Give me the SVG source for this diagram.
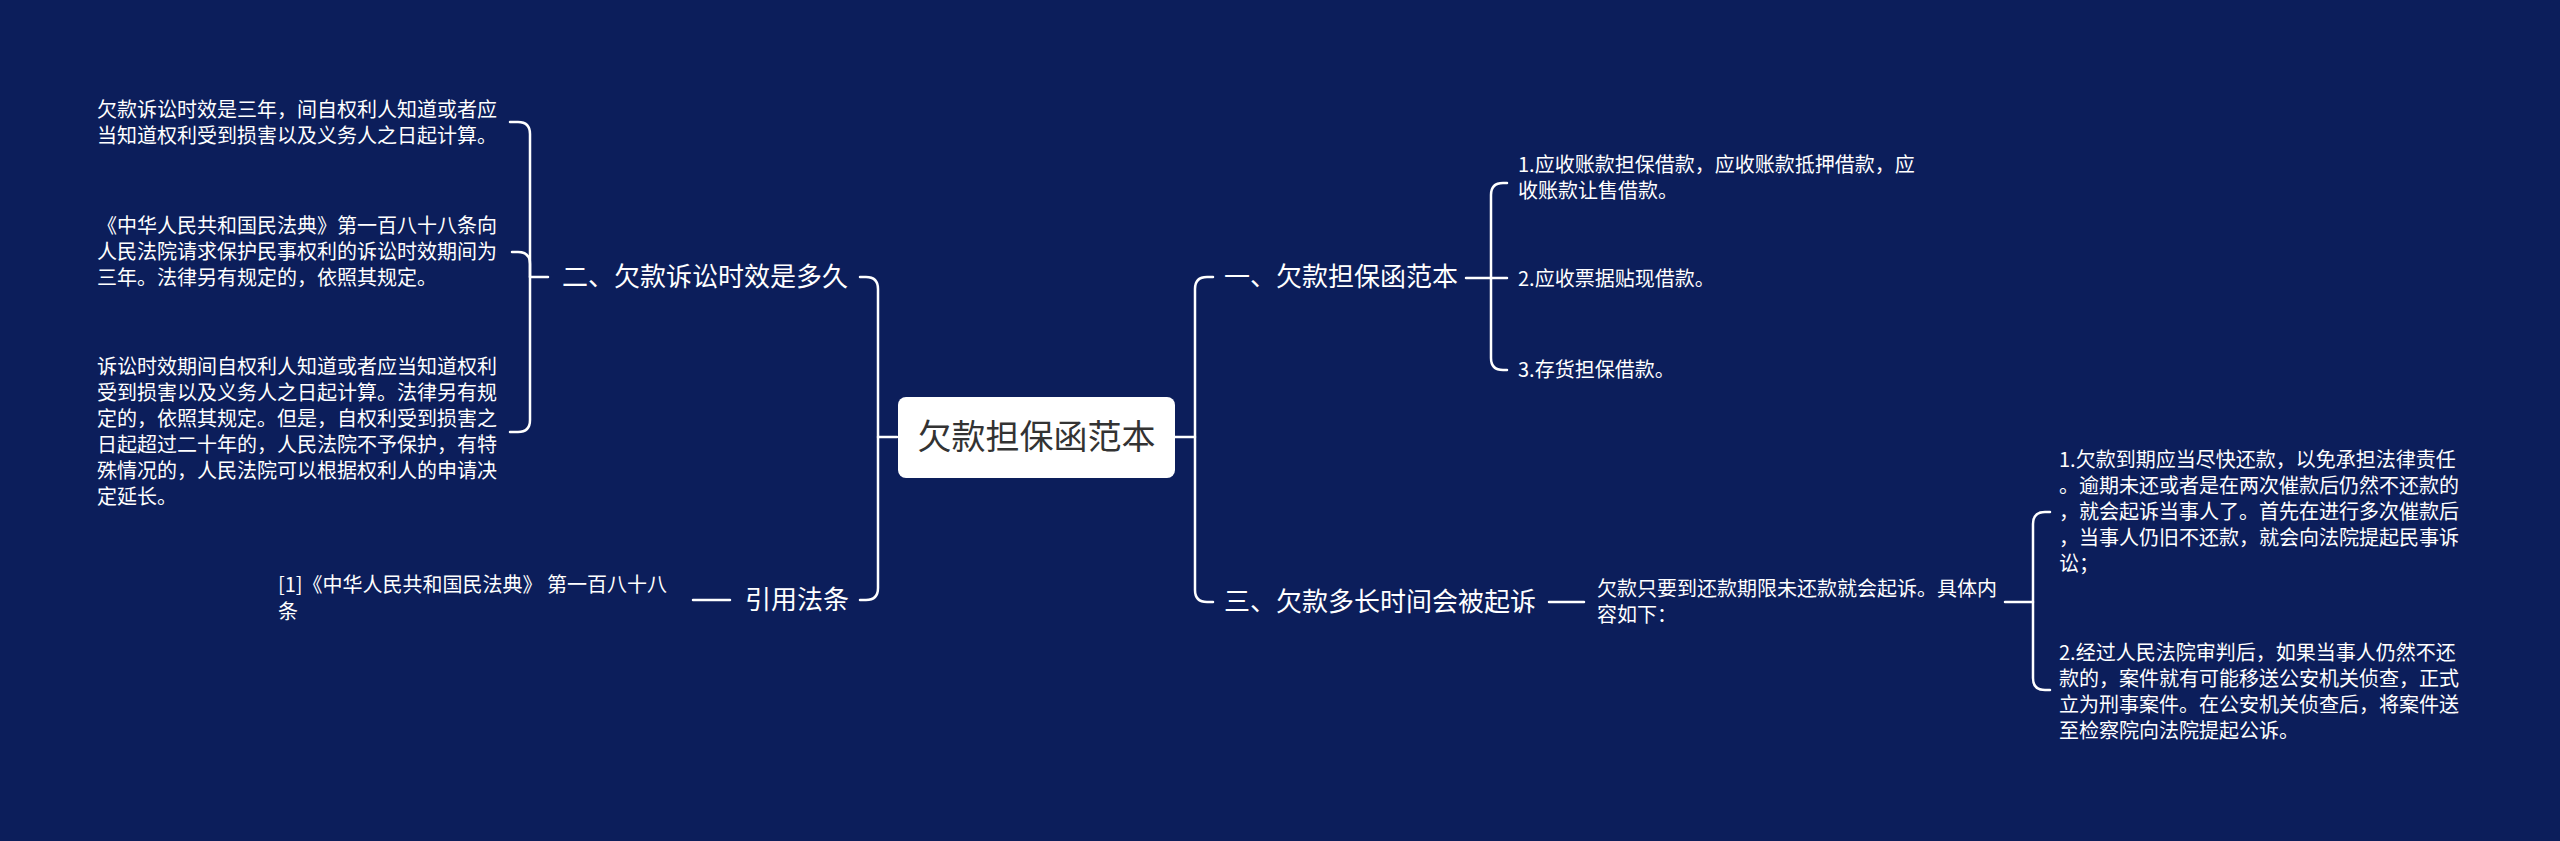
<svg xmlns="http://www.w3.org/2000/svg" width="2560" height="841" viewBox="0 0 2560 841">
<style>
.bg{fill:#0c1e5b}
.ln{fill:none;stroke:#ffffff;stroke-width:2.5;stroke-linecap:round;stroke-linejoin:round}
.t{font-family:"Noto Sans CJK SC","Noto Sans",sans-serif;fill:#ffffff}
.s{font-size:20px}
.m{font-size:26px}
.c{font-size:34px;fill:#333333}
</style>
<rect class="bg" x="0" y="0" width="2560" height="841"/>
<g id="connectors">
  <!-- center to left trunk -->
  <path class="ln" d="M897 437 H878 V289 Q878 277 866 277 H860"/>
  <path class="ln" d="M878 437 V588 Q878 600 866 600 H860"/>
  <!-- center to right trunk -->
  <path class="ln" d="M1175 437 H1195 V289 Q1195 277 1207 277 H1213"/>
  <path class="ln" d="M1195 437 V590 Q1195 602 1207 602 H1213"/>
  <!-- 二 bracket -->
  <path class="ln" d="M548 277 H530 V134 Q530 122 518 122 H510"/>
  <path class="ln" d="M530 277 V264 Q530 252 518 252 H512"/>
  <path class="ln" d="M530 277 V420 Q530 432 518 432 H510"/>
  <!-- 引用法条 -->
  <path class="ln" d="M730 600 H693"/>
  <!-- 一 bracket -->
  <path class="ln" d="M1466 278 H1491 V195 Q1491 183 1503 183 H1507"/>
  <path class="ln" d="M1491 278 H1507"/>
  <path class="ln" d="M1491 278 V358 Q1491 370 1503 370 H1507"/>
  <!-- 三 -->
  <path class="ln" d="M1549 602 H1584"/>
  <path class="ln" d="M2005 602 H2033 V524 Q2033 512 2045 512 H2050"/>
  <path class="ln" d="M2033 602 V678 Q2033 690 2045 690 H2050"/>
</g>
<g id="center">
  <rect x="898" y="397" width="277" height="81" rx="8" fill="#ffffff"/>
  <text class="t c" x="1036.5" y="449" text-anchor="middle">欠款担保函范本</text>
</g>
<g id="n2">
  <text class="t m" x="562" y="286">二、欠款诉讼时效是多久</text>
</g>
<g id="n2a">
  <text class="t s" x="97"><tspan x="97" y="117">欠款诉讼时效是三年，间自权利人知道或者应</tspan><tspan x="97" y="143">当知道权利受到损害以及义务人之日起计算。</tspan></text>
</g>
<g id="n2b">
  <text class="t s"><tspan x="97" y="233">《中华人民共和国民法典》第一百八十八条向</tspan><tspan x="97" y="259">人民法院请求保护民事权利的诉讼时效期间为</tspan><tspan x="97" y="285">三年。法律另有规定的，依照其规定。</tspan></text>
</g>
<g id="n2c">
  <text class="t s"><tspan x="97" y="374">诉讼时效期间自权利人知道或者应当知道权利</tspan><tspan x="97" y="400">受到损害以及义务人之日起计算。法律另有规</tspan><tspan x="97" y="426">定的，依照其规定。但是，自权利受到损害之</tspan><tspan x="97" y="452">日起超过二十年的，人民法院不予保护，有特</tspan><tspan x="97" y="478">殊情况的，人民法院可以根据权利人的申请决</tspan><tspan x="97" y="504">定延长。</tspan></text>
</g>
<g id="nref">
  <text class="t m" x="745" y="609">引用法条</text>
</g>
<g id="nrefa">
  <text class="t s"><tspan x="278" y="592">[1]《中华人民共和国民法典》 第一百八十八</tspan><tspan x="278" y="619">条</tspan></text>
</g>
<g id="n1">
  <text class="t m" x="1224" y="286">一、欠款担保函范本</text>
</g>
<g id="n1a">
  <text class="t s"><tspan x="1518" y="172">1.应收账款担保借款，应收账款抵押借款，应</tspan><tspan x="1518" y="198">收账款让售借款。</tspan></text>
</g>
<g id="n1b">
  <text class="t s" x="1518" y="286">2.应收票据贴现借款。</text>
</g>
<g id="n1c">
  <text class="t s" x="1518" y="377">3.存货担保借款。</text>
</g>
<g id="n3">
  <text class="t m" x="1224" y="611">三、欠款多长时间会被起诉</text>
</g>
<g id="n3a">
  <text class="t s"><tspan x="1597" y="596">欠款只要到还款期限未还款就会起诉。具体内</tspan><tspan x="1597" y="622">容如下：</tspan></text>
</g>
<g id="n3b">
  <text class="t s"><tspan x="2059" y="467">1.欠款到期应当尽快还款，以免承担法律责任</tspan><tspan x="2059" y="493">。逾期未还或者是在两次催款后仍然不还款的</tspan><tspan x="2059" y="519">，就会起诉当事人了。首先在进行多次催款后</tspan><tspan x="2059" y="545">，当事人仍旧不还款，就会向法院提起民事诉</tspan><tspan x="2059" y="571">讼；</tspan></text>
</g>
<g id="n3c">
  <text class="t s"><tspan x="2059" y="660">2.经过人民法院审判后，如果当事人仍然不还</tspan><tspan x="2059" y="686">款的，案件就有可能移送公安机关侦查，正式</tspan><tspan x="2059" y="712">立为刑事案件。在公安机关侦查后，将案件送</tspan><tspan x="2059" y="738">至检察院向法院提起公诉。</tspan></text>
</g>
</svg>
